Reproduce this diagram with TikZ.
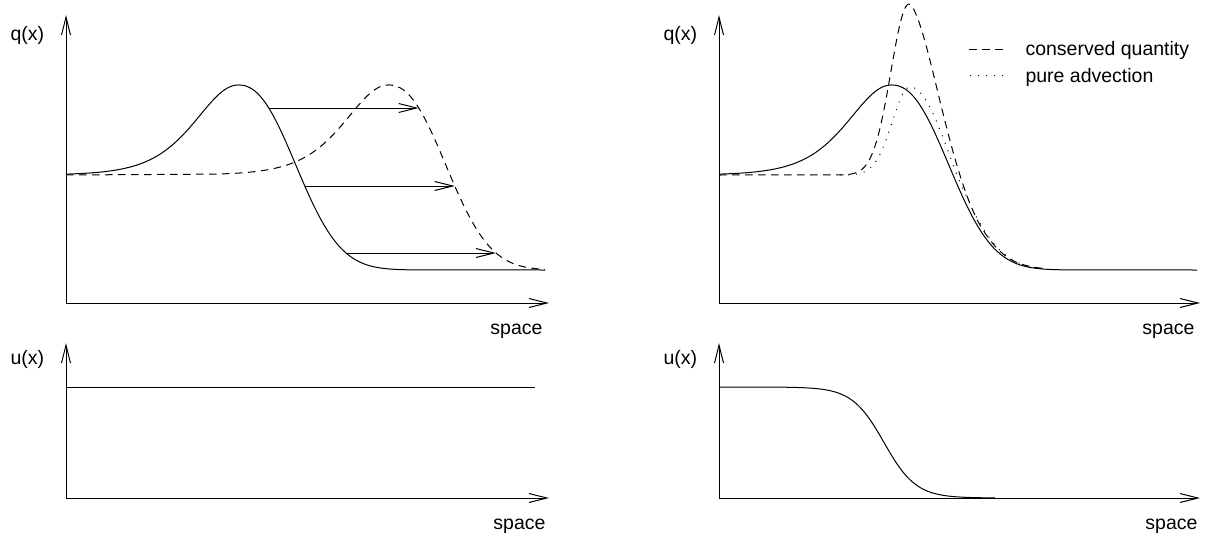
\documentclass[tikz,border=0pt]{standalone}
\usepackage{fontspec}
\setmainfont{Liberation Sans}
\usetikzlibrary{arrows.meta}
\begin{document}
\begin{tikzpicture}[x=1pt,y=-1pt,line width=1pt,
  axes/.style={arrows={Straight Barb[length=18pt,width=9pt]-Straight Barb[length=18pt,width=9pt]},line join=miter},
  move/.style={-{Straight Barb[length=18pt,width=9pt]}},
  curve/.style={line join=round},
  dashcurve/.style={line join=round,dash pattern=on 7.5pt off 5.5pt},
  dotcurve/.style={line join=round,dash pattern=on 1pt off 7pt},
  lbl/.style={inner sep=0pt,font=\fontsize{19.5}{23}\selectfont},
  declare function={
    qa(\x)=175-90/(cosh(\x/57.3)*cosh(\x/57.3));
    qb(\x)=270-185*exp(-exp(2.3*ln(max(\x,0.5)/74)));
    da(\x)=175-171*exp(-(\x/25.5)*(\x/25.5));
    db(\x)=270-266*exp(-exp(1.65*ln(max(\x,0.5)/50)));
    pa(\x)=175-88*exp(-(\x/25)*(\x/25));
    pb(\x)=270-183*exp(-(\x/58)*(\x/58));
  }]
\useasboundingbox (0,0) rectangle (1212,543);

% ---- axes ----
\coordinate (LQy) at (66,15);  \coordinate (LQo) at (66,303);  \coordinate (LQx) at (549,303);
\coordinate (LUy) at (66,343); \coordinate (LUo) at (66,498);  \coordinate (LUx) at (549,498);
\coordinate (RQy) at (719,15); \coordinate (RQo) at (719,303); \coordinate (RQx) at (1200,303);
\coordinate (RUy) at (719,343);\coordinate (RUo) at (719,498); \coordinate (RUx) at (1200,498);
\draw[axes] (LQy) -- (LQo) -- (LQx);
\draw[axes] (LUy) -- (LUo) -- (LUx);
\draw[axes] (RQy) -- (RQo) -- (RQx);
\draw[axes] (RUy) -- (RUo) -- (RUx);

% ---- labels ----
\node[lbl,anchor=base west] (lq) at (10,41) {q(x)};
\node[lbl,anchor=base west] (lu) at (10,364) {u(x)};
\node[lbl,anchor=base west] (rq) at (663,41) {q(x)};
\node[lbl,anchor=base west] (ru) at (663,364) {u(x)};
\node[lbl,anchor=base east] (ls1) at (543,334) {space};
\node[lbl,anchor=base east] (ls2) at (546,529) {space};
\node[lbl,anchor=base east] (rs1) at (1195,334) {space};
\node[lbl,anchor=base east] (rs2) at (1198,529) {space};

% ---- left top: q ----
\coordinate (lsA) at (66,175);
\coordinate (lsE) at (545,270);
\draw[curve] plot[domain=-172:0,samples=90] ({238+\x},{qa(\x)})
  -- plot[domain=0:180,samples=90] ({238+\x},{qb(\x)}) -- (lsE);
\draw[dashcurve] (lsA) -- plot[domain=-172:0,samples=90] ({388+\x},{qa(\x)})
  -- plot[domain=0:157,samples=90] ({388+\x},{qb(\x)});
\coordinate (m1a) at (268.7,108); \coordinate (m1b) at (418.7,108);
\coordinate (m2a) at (304.8,186); \coordinate (m2b) at (454.8,186);
\coordinate (m3a) at (346,253);   \coordinate (m3b) at (496,253);
\draw[move] (m1a) -- (m1b);
\draw[move] (m2a) -- (m2b);
\draw[move] (m3a) -- (m3b);

% ---- left bottom: u ----
\coordinate (luA) at (66,387); \coordinate (luE) at (535,387);
\draw (luA) -- (luE);

% ---- right top: q ----
\coordinate (rsE) at (1197,270);
\coordinate (rdA) at (719,175);
\draw[curve] plot[domain=-172:0,samples=90] ({891+\x},{qa(\x)})
  -- plot[domain=0:180,samples=90] ({891+\x},{qb(\x)}) -- (rsE);
\draw[dashcurve] (rdA) -- plot[domain=-70:0,samples=80] ({909+\x},{da(\x)})
  -- plot[domain=0:133,samples=120] ({909+\x},{min(db(\x),qb(\x+15))});
\draw[dotcurve] plot[domain=-70:0,samples=80] ({910+\x},{pa(\x)})
  -- plot[domain=0:132,samples=120] ({910+\x},{min(pb(\x),qb(\x+15))});

% legend
\coordinate (k1a) at (969,49.5); \coordinate (k1b) at (1003,49.5);
\coordinate (k2a) at (970,75.5); \coordinate (k2b) at (1004,75.5);
\draw[dashcurve] (k1a) -- (k1b);
\draw[dotcurve] (k2a) -- (k2b);
\node[lbl,anchor=base west] (k1) at (1025,55.5) {conserved quantity};
\node[lbl,anchor=base west] (k2) at (1025,82) {pure advection};

% ---- right bottom: u ----
\draw[curve] plot[domain=719:995,samples=140] (\x,{498-111/(1+exp((\x-884)/16))});
\end{tikzpicture}
\end{document}
